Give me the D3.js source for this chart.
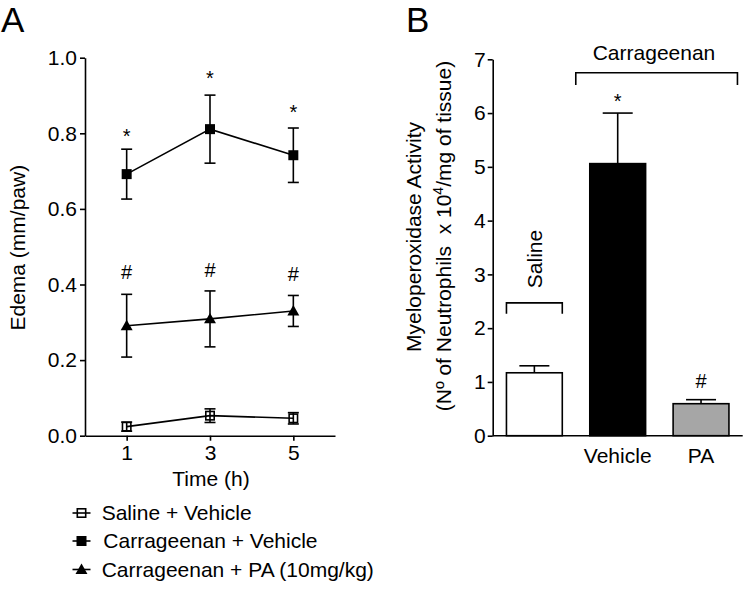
<!DOCTYPE html>
<html>
<head>
<meta charset="utf-8">
<script src="https://cdn.jsdelivr.net/npm/d3@7"></script>
<style>
  html, body { margin: 0; padding: 0; background: #fff; }
  svg { display: block; }
  text { font-family: "Liberation Sans", Arial, Helvetica, sans-serif; fill: #000; }
</style>
</head>
<body>
<svg id="chart" width="745" height="589"></svg>
<script>
// ---------- Panel A data ----------
const times = [1, 3, 5];
const salineVehicle = [0.024, 0.053, 0.046];
const salineVehicleErr = [0.012, 0.018, 0.015];
const carrVehicle = [0.692, 0.811, 0.742];
const carrVehicleErr = [0.066, 0.090, 0.072];
const carrPA = [0.291, 0.309, 0.330];
const carrPAErr = [0.083, 0.074, 0.041];
const edemaTicks = [0, 0.2, 0.4, 0.6, 0.8, 1.0];
const timeTicks = [1, 3, 5];
const legendLabels = ["Saline + Vehicle", "Carrageenan + Vehicle", "Carrageenan + PA (10mg/kg)"];

// ---------- Panel B data ----------
const mpoGroups = ["Saline", "Vehicle", "PA"];
const mpoLabels = ["", "Vehicle", "PA"];
const mpoValues = [1.17, 5.06, 0.595];
const mpoErr = [0.13, 0.94, 0.075];
const mpoTicks = [0, 1, 2, 3, 4, 5, 6, 7];

const svg = d3.select("#chart");
const FONT = 21;

// ================= PANEL A =================
const xA = d3.scaleLinear().domain([0, 6]).range([85, 335]);
const yA = d3.scaleLinear().domain([0, 1]).range([435.7, 57.7]);

svg.append("text").attr("x", 1).attr("y", 32).style("font-size", "35px").text("A");

const yAxisA = svg.append("g").attr("transform", `translate(${xA(0)},0)`)
  .call(d3.axisLeft(yA).tickValues(edemaTicks).tickFormat(d3.format(".1f")).tickSize(5).tickSizeOuter(0).tickPadding(3));
const xAxisA = svg.append("g").attr("transform", `translate(0,${yA(0)})`)
  .call(d3.axisBottom(xA).tickValues(timeTicks).tickFormat(d3.format("d")).tickSize(5).tickSizeOuter(0).tickPadding(4));
[yAxisA, xAxisA].forEach(g => {
  g.selectAll("path, line").attr("stroke", "#000").attr("stroke-width", 1.6);
  g.selectAll("text").style("font-size", FONT + "px").attr("font-family", null);
});

svg.append("text")
  .attr("transform", `translate(25,${(yA(0) + yA(1)) / 2 + 1}) rotate(-90)`)
  .attr("text-anchor", "middle").style("font-size", FONT + "px").text("Edema (mm/paw)");
svg.append("text").attr("x", 211).attr("y", 486).attr("text-anchor", "middle")
  .style("font-size", FONT + "px").text("Time (h)");

const seriesA = [
  { vals: salineVehicle, err: salineVehicleErr, marker: "openSquare" },
  { vals: carrVehicle, err: carrVehicleErr, marker: "square" },
  { vals: carrPA, err: carrPAErr, marker: "triangle" }
];
const lineA = d3.line().x(d => xA(d[0])).y(d => yA(d[1]));
const capW = 11;

function drawMarker(g, type, cx, cy, s) {
  if (type === "square") {
    g.append("rect").attr("x", cx - s / 2).attr("y", cy - s / 2).attr("width", s).attr("height", s).attr("fill", "#000");
  } else if (type === "openSquare") {
    g.append("rect").attr("x", cx - s / 2 + 0.8).attr("y", cy - s / 2 + 0.8).attr("width", s - 1.6).attr("height", s - 1.6)
      .attr("fill", "none").attr("stroke", "#000").attr("stroke-width", 1.6);
  } else {
    const sym = d3.symbol().type(d3.symbolTriangle).size(s * s * 0.62);
    g.append("path").attr("d", sym()).attr("transform", `translate(${cx},${cy + 1})`).attr("fill", "#000");
  }
}

seriesA.forEach(s => {
  const pts = times.map((t, i) => [t, s.vals[i], s.err[i]]);
  const g = svg.append("g");
  g.append("path").attr("d", lineA(pts)).attr("fill", "none").attr("stroke", "#000").attr("stroke-width", 1.6);
  pts.forEach(p => {
    const cx = xA(p[0]), top = yA(p[1] + p[2]), bot = yA(p[1] - p[2]);
    g.append("line").attr("x1", cx).attr("x2", cx).attr("y1", top).attr("y2", bot).attr("stroke", "#000").attr("stroke-width", 1.6);
    [top, bot].forEach(yy => g.append("line").attr("x1", cx - capW / 2).attr("x2", cx + capW / 2)
      .attr("y1", yy).attr("y2", yy).attr("stroke", "#000").attr("stroke-width", 1.6));
    drawMarker(g, s.marker, cx, yA(p[1]), 10);
  });
});

// significance marks (panel A)
const starsA = [0.804, 0.957, 0.867];
const hashA = [0.434, 0.440, 0.430];
times.forEach((t, i) => {
  svg.append("text").attr("x", xA(t)).attr("y", yA(starsA[i]) + 11.5).attr("text-anchor", "middle")
    .style("font-size", "20px").text("*");
  svg.append("text").attr("x", xA(t)).attr("y", yA(hashA[i]) + 7.5).attr("text-anchor", "middle")
    .style("font-size", "20px").text("#");
});

// legend
const legendBase = [520, 548, 576.5];
const legendTextX = [101.7, 103.3, 101.7];
const legendMarkers = ["openSquare", "square", "triangle"];
legendLabels.forEach((lab, i) => {
  const cy = legendBase[i] - 7;
  const g = svg.append("g");
  g.append("line").attr("x1", 72.5).attr("x2", 90.5).attr("y1", cy).attr("y2", cy).attr("stroke", "#000").attr("stroke-width", 1.6);
  drawMarker(g, legendMarkers[i], 81.5, cy, 10);
  g.append("text").attr("x", legendTextX[i]).attr("y", legendBase[i]).style("font-size", FONT + "px").text(lab);
});

// ================= PANEL B =================
const xB = d3.scaleBand().domain(mpoGroups).range([492.7, 742.7]).paddingInner(0.33).paddingOuter(0.165);
const yB = d3.scaleLinear().domain([0, 7]).range([435.7, 59.3]);

svg.append("text").attr("x", 406).attr("y", 32).style("font-size", "35px").text("B");

const yAxisB = svg.append("g").attr("transform", `translate(492.7,0)`)
  .call(d3.axisLeft(yB).tickValues(mpoTicks).tickFormat(d3.format("d")).tickSize(5).tickSizeOuter(0).tickPadding(2));
yAxisB.selectAll("path, line").attr("stroke", "#000").attr("stroke-width", 1.6);
yAxisB.selectAll("text").style("font-size", FONT + "px");

const xAxisB = svg.append("g").attr("transform", `translate(0,${yB(0)})`)
  .call(d3.axisBottom(xB).tickFormat((d, i) => mpoLabels[i]).tickSize(0).tickSizeOuter(0).tickPadding(12));
xAxisB.select("path").attr("stroke", "#000").attr("stroke-width", 1.6).attr("d", `M492.7,0H742.7`);
xAxisB.selectAll("text").style("font-size", FONT + "px");

const barFills = ["#ffffff", "#000000", "#a6a6a6"];
const capB = 30;
mpoGroups.forEach((gname, i) => {
  const x0 = xB(gname), w = xB.bandwidth(), cx = x0 + w / 2;
  const top = yB(mpoErr[i] + mpoValues[i]);
  svg.append("line").attr("x1", cx).attr("x2", cx).attr("y1", top).attr("y2", yB(mpoValues[i]))
    .attr("stroke", "#000").attr("stroke-width", 1.6);
  svg.append("line").attr("x1", cx - capB / 2).attr("x2", cx + capB / 2).attr("y1", top).attr("y2", top)
    .attr("stroke", "#000").attr("stroke-width", 1.6);
  svg.append("rect").attr("x", x0).attr("y", yB(mpoValues[i])).attr("width", w).attr("height", yB(0) - yB(mpoValues[i]))
    .attr("fill", barFills[i]).attr("stroke", "#000").attr("stroke-width", 1.6);
});

// significance marks (panel B)
svg.append("text").attr("x", xB("Vehicle") + xB.bandwidth() / 2).attr("y", yB(6.30) + 11.5)
  .attr("text-anchor", "middle").style("font-size", "20px").text("*");
svg.append("text").attr("x", xB("PA") + xB.bandwidth() / 2).attr("y", yB(1.035) + 7.5)
  .attr("text-anchor", "middle").style("font-size", "20px").text("#");

// brackets
function bracket(x1, x2, yv, yv2) {
  svg.append("path")
    .attr("d", `M${x1},${yB(yv2)}V${yB(yv)}H${x2}V${yB(yv2)}`)
    .attr("fill", "none").attr("stroke", "#000").attr("stroke-width", 1.6);
}
bracket(xB("Vehicle") - 14, xB("PA") + xB.bandwidth() + 8.5, 6.75, 6.52);
svg.append("text").attr("x", 654).attr("y", 60).attr("text-anchor", "middle").style("font-size", FONT + "px").text("Carrageenan");
bracket(xB("Saline"), xB("Saline") + xB.bandwidth(), 2.47, 2.27);
svg.append("text").attr("transform", `translate(542,259) rotate(-90)`).attr("text-anchor", "middle")
  .style("font-size", FONT + "px").text("Saline");

// y title B
const t1 = svg.append("text").attr("transform", `translate(421,237) rotate(-90)`).attr("text-anchor", "middle")
  .style("font-size", FONT + "px").text("Myeloperoxidase Activity");
const t2 = svg.append("text").attr("transform", `translate(451,236) rotate(-90)`).attr("text-anchor", "middle")
  .style("font-size", FONT + "px");
t2.append("tspan").text("(Nº of Neutrophils \u00a0x 10");
t2.append("tspan").attr("dy", -8).style("font-size", "14px").text("4");
t2.append("tspan").attr("dy", 8).text("/mg of tissue)");
</script>
</body>
</html>
